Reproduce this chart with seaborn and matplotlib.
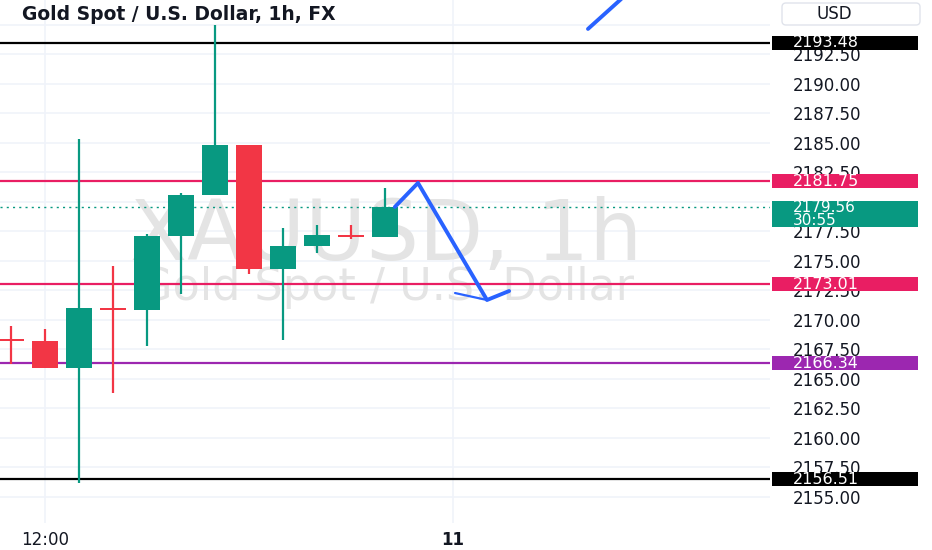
import numpy as np
import matplotlib
matplotlib.use("Agg")
import matplotlib.pyplot as plt
import matplotlib.transforms as mtransforms
from matplotlib.patches import Rectangle, FancyBboxPatch
import seaborn as sns

# ---------------- data ----------------
candle_idx = list(range(12))
opens  = [2168.31, 2168.21, 2165.95, 2170.94, 2170.83, 2177.10, 2180.57, 2184.83, 2174.31, 2176.25, 2177.14, 2177.02]
closes = [2168.27, 2165.95, 2171.03, 2170.90, 2177.10, 2180.57, 2184.83, 2174.31, 2176.25, 2177.18, 2177.10, 2179.56]
highs  = [2169.50, 2169.20, 2185.31, 2174.58, 2177.27, 2180.74, 2194.97, 2184.83, 2177.78, 2178.03, 2178.03, 2181.16]
lows   = [2166.26, 2165.95, 2156.19, 2163.81, 2167.79, 2172.19, 2180.57, 2173.88, 2168.29, 2175.66, 2176.85, 2177.02]

level_prices = [2193.48, 2181.75, 2173.01, 2166.34, 2156.51]
level_colors = ["#000000", "#E91E63", "#E91E63", "#9C27B0", "#000000"]
level_labels = ["2193.48", "2181.75", "2173.01", "2166.34", "2156.51"]

last_price = 2179.56
last_label = "2179.56"
countdown_label = "30:55"

draw_x = [11.29, 11.97, 14.00, 14.65]
draw_y = [2179.56, 2181.59, 2171.68, 2172.44]
arrow_x = [13.06, 14.00]
arrow_y = [2172.27, 2171.68]
up_x = [16.97, 18.50]
up_y = [2194.63, 2198.60]

ytick_values = [2155.0, 2157.5, 2160.0, 2162.5, 2165.0, 2167.5, 2170.0, 2172.5, 2175.0,
                2177.5, 2180.0, 2182.5, 2185.0, 2187.5, 2190.0, 2192.5, 2195.0]
hidden_ticks = [2180.0, 2195.0]   # covered by the price / currency boxes
xtick_pos = [1, 13]
xtick_labels = ["12:00", "11"]

title = "Gold Spot / U.S. Dollar, 1h, FX"
wm_big = "XAUUSD, 1h"
wm_small = "Gold Spot / U.S. Dollar"
currency = "USD"

# ---------------- style ----------------
sns.set_theme(style="white")
plt.rcParams["font.family"] = ["DejaVu Sans"]

UP = "#089981"
DOWN = "#F23645"
TXT = "#131722"

W, H = 932, 550
fig = plt.figure(figsize=(W / 100, H / 100), dpi=100)
fig.patch.set_facecolor("white")
ax = fig.add_axes([0, 27 / H, 770 / W, 523 / H])
ax.set_facecolor("white")

ax.set_xlim(-11 / 34, 759 / 34)
ax.set_ylim(2152.80, 2197.08)

for s in ax.spines.values():
    s.set_visible(False)

# grid + ticks
ax.set_yticks(ytick_values)
ax.set_yticklabels(["" if v in hidden_ticks else f"{v:.2f}" for v in ytick_values])
ax.set_xticks(xtick_pos)
ax.set_xticklabels(xtick_labels)
ax.get_xticklabels()[1].set_fontweight("bold")
ax.grid(True, color="#f0f3fa", lw=1.2)
ax.yaxis.tick_right()
ax.tick_params(axis="y", length=0, pad=16.5, labelsize=12, colors=TXT)
ax.tick_params(axis="x", length=0, pad=6, labelsize=12, colors=TXT)

# watermark
ax.text(0.501, 0.503, wm_big, transform=ax.transAxes, ha="center", va="baseline",
        fontsize=60, color="#e4e4e4", zorder=0.6)
ax.text(0.501, 0.426, wm_small, transform=ax.transAxes, ha="center", va="baseline",
        fontsize=32, color="#e4e4e4", zorder=0.6)

# horizontal levels
for p, c in zip(level_prices, level_colors):
    ax.axhline(p, color=c, lw=1.6, zorder=2)
ax.axhline(last_price, color=UP, lw=1.0, ls=(0, (1.5, 3)), zorder=2)

# candles
for i, o, c, h, l in zip(candle_idx, opens, closes, highs, lows):
    col = UP if c >= o else DOWN
    ax.vlines(i, l, h, color=col, lw=1.6, zorder=3)
    bottom = min(o, c)
    height = max(abs(c - o), 0.17)
    if abs(c - o) < 0.17:
        bottom = (o + c) / 2 - 0.085
    ax.bar(i, height, bottom=bottom, width=0.77, color=col, zorder=3, linewidth=0)

# drawing (blue path)
sns.lineplot(x=draw_x, y=draw_y, sort=False, estimator=None, color="#2962FF", lw=2.8,
             ax=ax, zorder=4)
sns.lineplot(x=arrow_x, y=arrow_y, sort=False, estimator=None, color="#2962FF", lw=1.6,
             ax=ax, zorder=4)
sns.lineplot(x=up_x, y=up_y, sort=False, estimator=None, color="#2962FF", lw=2.8,
             ax=ax, zorder=4)

# price label boxes on the right axis
blend = mtransforms.blended_transform_factory(ax.transAxes, ax.transData)
bx0 = 772 / 770
bw = (918 - 772) / 770
tx = 793 / 770
half = 7 / 11.81
for p, c, lab in zip(level_prices, level_colors, level_labels):
    ax.add_patch(Rectangle((bx0, p - half), bw, 2 * half, transform=blend, clip_on=False,
                           facecolor=c, edgecolor="none", zorder=5))
    ax.text(tx, p, lab, transform=blend, ha="left", va="center", color="white",
            fontsize=11.5, zorder=6, clip_on=False)

ax.add_patch(Rectangle((bx0, 2177.86), bw, 2180.05 - 2177.86, transform=blend, clip_on=False,
                       facecolor=UP, edgecolor="none", zorder=5))
ax.text(tx, 2179.52, last_label, transform=blend, ha="left", va="center", color="white",
        fontsize=11, zorder=6, clip_on=False)
ax.text(tx, 2178.38, countdown_label, transform=blend, ha="left", va="center", color="white",
        fontsize=11, zorder=6, clip_on=False)

# title
fig.text(22 / W, 1 - 14 / H, title, ha="left", va="center", fontsize=13.5,
         fontweight="bold", color=TXT)

# currency box
ident = mtransforms.IdentityTransform()
usd_box = FancyBboxPatch((782, H - 25), 138, 22, boxstyle="round,pad=0,rounding_size=4",
                         transform=ident, facecolor="white", edgecolor="#e0e3eb", lw=1,
                         zorder=10)
fig.add_artist(usd_box)
fig.text(834 / W, 1 - 14 / H, currency, ha="center", va="center", fontsize=12,
         color=TXT, zorder=11)

fig.savefig("out.png", dpi=100, facecolor="white")
